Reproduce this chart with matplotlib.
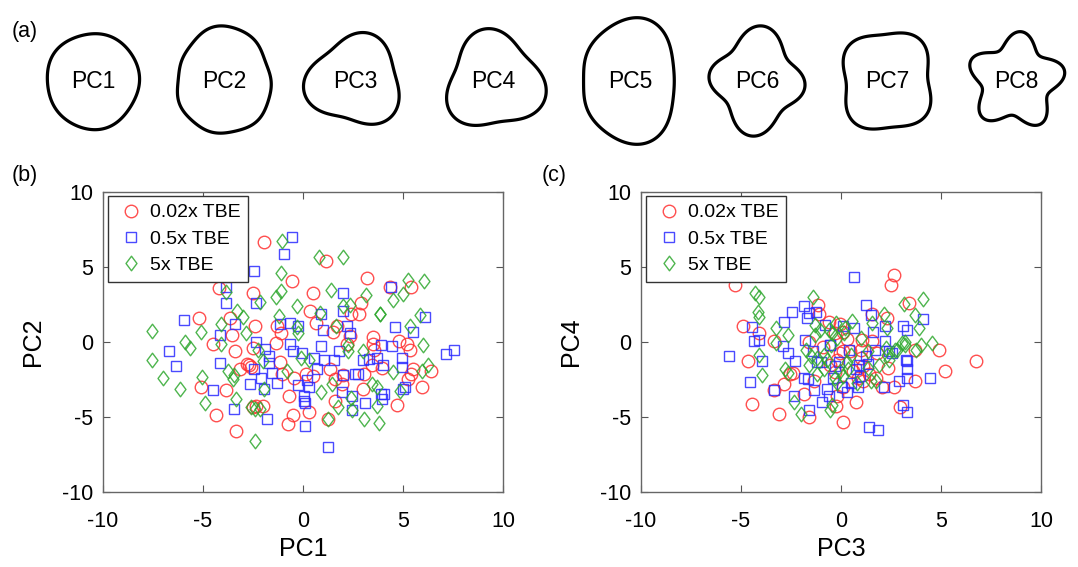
import numpy as np
import matplotlib
matplotlib.use('Agg')
import matplotlib.pyplot as plt
from matplotlib.path import Path
from matplotlib.patches import Polygon

plt.rcParams['font.family'] = ['Liberation Sans', 'DejaVu Sans']
plt.rcParams['axes.unicode_minus'] = False

# ---------------- data ----------------
series_labels = ['0.02x TBE', '0.5x TBE', '5x TBE']
tick_values = [-10, -5, 0, 5, 10]

# panel (b): PC1 vs PC2
b_red = [(-1.95, 6.7), (1.13, 5.4), (-0.55, 4.1), (3.2, 4.3), (-4.2, 3.6), (-2.5, 3.3), (0.5, 3.3),
         (4.35, 3.7), (5.4, 3.7), (0.35, 2.1), (2.9, 2.6), (2.4, 1.9), (2.8, 1.9), (0.65, 1.3),
         (-3.65, 1.6), (-5.2, 1.6), (-2.4, 1.1), (-1.3, 1.1), (-1.1, 0.6), (-3.55, 0.5), (1.5, 0.65),
         (1.7, 1.1), (2.35, 0.4), (3.5, 0.35), (4.8, 0.1), (-1.35, -0.05), (-4.5, -0.1), (2.2, -0.15),
         (3.5, -0.1), (5.2, -0.1), (5.35, -0.5), (-3.39, -0.57), (-2.79, -1.44), (-2.69, -1.55),
         (-2.58, -1.68), (-3.13, -1.79), (-2.5, -0.41), (-1.13, -1.35), (-1.05, -2.16), (-0.45, -2.38),
         (0.16, -2.16), (0.48, -2.27), (1.37, -1.83), (1.61, -2.49), (2.02, -2.23), (3.55, -0.52),
         (3.47, -1.51), (3.95, -1.72), (5.52, -1.83), (5.4, -2.16), (5.24, -2.49), (6.42, -1.94),
         (5.97, -3.03), (4.68, -4.19), (3.06, -2.16), (2.98, -3.14), (1.61, -3.9), (1.94, -2.8),
         (1.24, -5.1), (0.32, -4.67), (-0.48, -4.89), (-0.77, -5.44), (-0.68, -3.62), (-2.34, -4.24),
         (-2.5, -4.34), (-2.02, -4.24), (-3.84, -3.21), (-4.35, -4.85), (-5.11, -3.03), (-3.35, -5.92)]
b_blue = [(-0.55, 7.0), (-0.95, 5.9), (-2.47, 4.76), (-3.83, 3.69), (-3.83, 2.63), (-2.37, 2.59),
          (2.0, 3.3), (4.38, 3.65), (0.88, 1.86), (2.0, 2.1), (6.12, 1.7), (-5.95, 1.44), (-3.42, 1.19),
          (-1.13, 1.19), (-0.67, 1.26), (-0.25, 1.04), (2.22, 1.08), (4.58, 0.97), (-4.17, 0.44),
          (1.0, 0.77), (2.37, 0.6), (5.5, 0.64), (-2.37, -0.02), (-0.63, -0.13), (0.92, -0.24),
          (3.92, -0.18), (4.47, -0.29), (7.17, -0.77), (7.55, -0.55), (-6.7, -0.58), (-6.33, -1.6),
          (-4.13, -1.39), (-4.52, -3.19), (-3.47, -4.45), (-2.66, -2.82), (-2.45, -1.83), (-2.1, -2.38),
          (-1.9, -0.48), (-1.69, -0.96), (-1.69, -1.4), (-1.53, -2.05), (-1.97, -3.1), (-1.81, -5.11),
          (-1.29, -2.71), (-0.52, -0.59), (-0.05, -0.74), (-0.24, -2.88), (0.21, -2.53), (0.29, -2.97),
          (0.03, -3.62), (0.03, -3.91), (0.08, -4.06), (0.11, -5.61), (0.53, -1.07), (0.68, -1.79),
          (1.05, -1.18), (1.24, -7.0), (1.53, -1.18), (1.82, -0.63), (2.02, -2.23), (1.94, -3.32),
          (2.58, -2.16), (2.77, -2.16), (2.45, -3.62), (2.45, -4.52), (3.1, -4.06), (2.98, -1.18),
          (3.31, -1.14), (3.71, -1.07), (4.0, -1.51), (3.92, -3.47), (4.06, -3.47), (3.95, -3.8),
          (4.95, -1.07), (4.95, -1.66), (5.0, -3.14), (5.08, -2.97)]
b_green = [(-1.03, 6.72), (0.78, 5.69), (2.0, 5.64), (-1.12, 4.62), (5.25, 4.14), (6.05, 4.09),
           (1.42, 3.47), (-1.08, 3.43), (-1.37, 2.99), (3.17, 3.14), (4.5, 2.81), (5.0, 3.21),
           (-2.17, 2.7), (-3.83, 3.36), (-0.28, 2.41), (2.0, 2.37), (2.33, 2.48), (-3.3, 2.04),
           (-3.0, 1.66), (0.83, 1.92), (-1.2, 1.75), (3.83, 1.88), (3.85, 1.85), (5.83, 1.81),
           (-4.08, 1.19), (-5.08, 0.66), (-7.53, 0.75), (-2.83, 0.6), (-0.28, 1.0), (-0.25, 0.6),
           (1.67, 1.1), (5.33, 1.04), (-5.92, -0.02), (-5.67, -0.4), (-4.08, -0.13), (-7.55, -1.17),
           (6.0, -0.18), (2.25, -0.18), (-7.02, -2.38), (-6.16, -3.1), (-5.03, -2.34), (-4.92, -4.06),
           (-3.76, -1.94), (-3.52, -2.49), (-3.47, -2.23), (-3.34, -3.8), (-2.58, -4.3), (-2.42, -4.45),
           (-2.42, -6.59), (-2.26, -0.52), (-2.02, -1.29), (-1.97, -3.14), (-2.13, -4.45), (-0.81, -1.94),
           (-0.08, -1.07), (0.32, -1.18), (0.89, -3.32), (1.26, -5.11), (1.45, -2.82), (1.77, -4.34),
           (2.23, -0.63), (2.42, -3.76), (2.45, -4.56), (2.98, -0.63), (3.03, -5.15), (3.47, -2.82),
           (3.71, -3.03), (3.71, -4.24), (3.79, -5.37), (4.52, -2.01), (4.84, -3.25), (5.97, -1.94),
           (6.24, -1.51)]

# panel (c): PC3 vs PC4
c_red = [(-5.32, 3.81), (2.63, 4.47), (2.5, 3.81), (3.38, 2.59), (-1.15, 2.48), (-4.92, 1.1),
         (-4.08, 0.6), (1.55, 1.88), (2.3, 1.59), (-3.33, 0.04), (1.05, 0.15), (1.55, 0.04),
         (4.88, -0.55), (3.72, -0.55), (6.77, -1.24), (-4.67, -1.28), (0.1, -0.62), (-1.62, -0.02),
         (-1.1, 1.88), (-0.62, 1.33), (-0.29, 0.57), (0.11, 0.68), (-0.05, 1.22), (-4.43, -4.13),
         (-3.1, -4.78), (-3.33, -3.19), (-2.86, -2.77), (-2.56, -2.16), (-2.4, -2.05), (-1.35, -2.6),
         (-1.59, -5.0), (-1.83, -3.47), (-0.05, -0.74), (-0.21, -1.18), (-0.54, -1.51), (0.11, -3.03),
         (-0.21, -3.58), (0.11, -5.33), (-0.24, -4.24), (0.76, -4.02), (0.44, -0.63), (1.01, -1.07),
         (1.09, -1.62), (0.84, -2.38), (1.09, -2.6), (1.82, -0.74), (1.74, -2.38), (2.06, -3.03),
         (2.35, -1.72), (2.63, -3.03), (2.95, -4.34), (3.72, -2.6), (5.18, -1.9),
         (-0.3, -2.0), (0.6, -1.9), (1.4, -2.1), (-0.9, -0.3), (1.0, -0.5), (0.3, 0.2)]
c_blue = [(0.63, 4.31), (1.25, 2.48), (-1.83, 2.37), (-2.45, 1.97), (-1.62, 1.92), (-1.23, 1.99),
          (-1.7, 1.59), (-2.87, 1.31), (-0.78, 1.15), (0.1, 1.1), (0.63, 0.93), (1.5, 1.81), (2.22, 1.1),
          (1.6, 0.66), (3.1, 1.04), (3.3, 0.82), (4.1, 1.53), (-4.45, 0.97), (-4.37, 0.04), (-4.12, 0.15),
          (-5.62, -0.95), (-1.78, 0.15), (-0.53, -0.18), (2.22, 0.04), (2.38, -0.62), (3.27, -1.22),
          (-4.56, -2.66), (-3.94, -1.29), (-3.33, -3.19), (-2.89, -0.26), (-2.65, -0.74), (-2.35, -3.58),
          (-2.32, -1.29), (-1.87, -2.42), (-1.67, -2.49), (-1.35, -3.19), (-1.59, -4.56), (-1.02, -1.35),
          (-1.18, -1.35), (-0.97, -3.97), (-0.7, -3.14), (-0.62, -3.58), (-0.57, -0.2), (0.03, -3.03),
          (0.28, -3.36), (0.76, -1.83), (0.93, -2.27), (0.84, -2.97), (1.25, -0.96), (1.33, -1.44),
          (1.41, -5.65), (1.85, -5.87), (2.14, -2.97), (2.55, -0.7), (2.91, -2.6), (3.08, -4.19),
          (3.31, -4.67), (3.31, -1.29), (3.31, -1.83), (3.31, -2.38), (4.46, -2.38), (0.4, -0.5),
          (-0.3, -1.6), (-0.1, -1.3), (0.5, -2.7), (1.7, -0.5), (-1.4, -0.6), (0.9, -1.5), (-0.4, -2.4)]
c_green = [(-4.32, 3.25), (-4.12, 2.99), (-4.15, 1.97), (-4.08, 1.7), (-1.42, 3.03), (3.13, 2.54),
           (4.08, 2.85), (3.72, 1.81), (2.13, 1.88), (0.55, 1.37), (-0.23, 1.26), (-3.23, 0.93),
           (-2.65, 0.49), (-3.23, -0.07), (4.55, -0.07), (3.88, 0.93), (2.3, 0.93), (3.05, -0.07),
           (3.22, -0.02), (2.8, -0.51), (-4.12, -0.84), (-1.32, 1.15), (-1.03, 0.82), (-1.32, 0.49),
           (-0.62, 0.77), (-0.45, 0.6), (0.13, 0.6), (0.22, 0.93), (1.55, 1.26), (-3.94, -2.23),
           (-2.81, -1.83), (-2.65, -2.05), (-2.35, -4.02), (-1.99, -4.78), (-1.75, -0.52), (-1.51, -0.96),
           (-1.18, -1.07), (-0.86, -0.85), (-0.7, -1.18), (-1.18, -2.16), (-0.86, -1.83), (-0.54, -4.56),
           (-0.45, -4.19), (-0.29, -2.38), (-0.05, -1.94), (-0.21, -2.71), (0.11, -2.27), (0.52, -0.85),
           (0.36, -1.83), (1.33, -1.72), (1.49, -2.6), (1.74, -2.6), (1.9, -1.51), (2.31, -0.85),
           (2.39, -1.18), (2.23, -0.41), (2.71, -0.52), (3.2, -0.2), (4.01, -0.2), (3.77, -0.52),
           (1.33, -0.63), (-0.5, -0.2), (0.3, -1.3), (-1.6, -1.5), (0.8, -2.7), (1.0, 0.3), (-0.2, 0.3)]

# shape outlines of the principal components: harmonics (k, amplitude, phase in degrees)
shape_names = ['PC1', 'PC2', 'PC3', 'PC4', 'PC5', 'PC6', 'PC7', 'PC8']
shape_radius = [47, 50, 45, 47, 54, 45, 48, 42]
shape_harmonics = [
    [(2, 0.02, 90), (3, 0.015, 30), (5, 0.01, 0)],
    [(2, 0.07, 90), (3, 0.03, 90), (7, 0.012, 0)],
    [(3, 0.13, 73), (2, 0.03, 0)],
    [(3, 0.14, 100), (1, 0.03, 330)],
    [(2, 0.16, 90), (3, 0.04, 60), (5, 0.02, 0)],
    [(4, 0.15, 84), (2, 0.08, 90)],
    [(4, 0.09, 50), (2, 0.06, 90)],
    [(5, 0.18, 84)],
]

# ---------------- figure ----------------
W, H = 1078, 567
fig = plt.figure(figsize=(W / 100, H / 100), dpi=100)

# top strip with shapes (pixel coordinates)
axs = fig.add_axes([0, 0, 1, 1], zorder=-1)
axs.set_xlim(0, W)
axs.set_ylim(H, 0)
axs.axis('off')
shape_cx = [93, 224, 355, 493, 630, 757, 887, 1016]
shape_cy = 81
theta = np.linspace(0, 2 * np.pi, 720, endpoint=False)
for name, r0, harm, cx in zip(shape_names, shape_radius, shape_harmonics, shape_cx):
    r = np.ones_like(theta)
    for k, a, ph in harm:
        r += a * np.cos(k * (theta - np.deg2rad(ph)))
    r *= r0
    verts = np.column_stack([cx + r * np.cos(theta), shape_cy - r * np.sin(theta)])
    axs.add_patch(Polygon(verts, closed=True, fill=False, edgecolor='black', lw=2.3,
                          joinstyle='round'))
    axs.text(cx, shape_cy, name, ha='center', va='center', fontsize=16.5)

fig.text(12 / W, 1 - 32 / H, '(a)', fontsize=15.5, va='center', ha='left')
fig.text(12 / W, 1 - 176 / H, '(b)', fontsize=15.5, va='center', ha='left')
fig.text(542 / W, 1 - 176 / H, '(c)', fontsize=15.5, va='center', ha='left')

red, blue, green = '#ff3030', '#2a2aff', '#2fa82f'
diamond = Path([(0, 1), (0.75, 0), (0, -1), (-0.75, 0), (0, 1)],
               [Path.MOVETO, Path.LINETO, Path.LINETO, Path.LINETO, Path.CLOSEPOLY])
marker_styles = [dict(marker='o', ms=9, color=red),
                 dict(marker='s', ms=7.2, color=blue),
                 dict(marker=diamond, ms=10.5, color=green)]


def scatter_panel(left_px, data, xlabel, ylabel):
    ax = fig.add_axes([left_px / W, 75 / H, 400 / W, 300 / H])
    handles = []
    for pts, st, lab in zip(data, marker_styles, series_labels):
        arr = np.array(pts)
        h, = ax.plot(arr[:, 0], arr[:, 1], linestyle='none', marker=st['marker'], ms=st['ms'],
                     mfc='none', mec=st['color'], mew=1.0, alpha=0.85, label=lab)
        handles.append(h)
    ax.set_xlim(-10, 10)
    ax.set_ylim(-10, 10)
    ax.set_xticks(tick_values)
    ax.set_yticks(tick_values)
    ax.tick_params(direction='in', length=5, width=0.8, top=True, right=True,
                   labelsize=15.5, color='#555555')
    ax.tick_params(axis='x', pad=14)
    ax.tick_params(axis='y', pad=7)
    for sp in ax.spines.values():
        sp.set_color('#666666')
        sp.set_linewidth(1.0)
    ax.set_xlabel(xlabel, fontsize=18)
    ax.set_ylabel(ylabel, fontsize=18)
    ax.xaxis.set_label_coords(0.5, -0.15)
    ax.yaxis.set_label_coords(-0.145, 0.5)
    leg = ax.legend(handles=handles, loc='upper left', bbox_to_anchor=(5 / 400, 1 - 4 / 300),
                    borderaxespad=0, fontsize=14, frameon=True, fancybox=False,
                    edgecolor='#333333', framealpha=1, borderpad=0.4, handlelength=1.6,
                    handletextpad=0.15, labelspacing=0.45, numpoints=1)
    leg.get_frame().set_linewidth(1.0)
    return ax


scatter_panel(103, [b_red, b_blue, b_green], 'PC1', 'PC2')
scatter_panel(641, [c_red, c_blue, c_green], 'PC3', 'PC4')

fig.savefig('out.png', dpi=100)
